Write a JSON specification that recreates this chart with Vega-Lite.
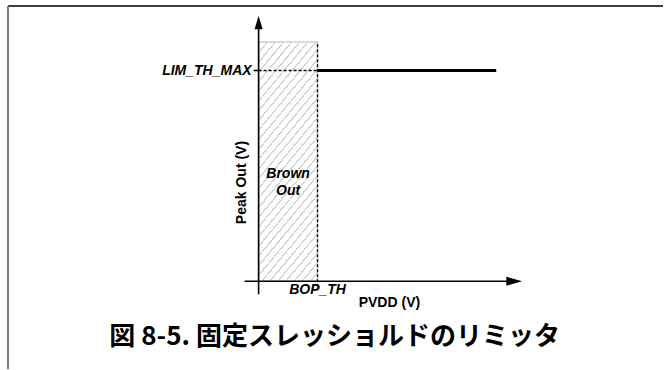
{
  "$schema": "https://vega.github.io/schema/vega-lite/v6.json",
  "width": 664,
  "height": 370,
  "padding": 0,
  "autosize": {"type": "fit", "contains": "padding"},
  "background": "white",
  "config": {"view": {"stroke": null}},
  "encoding": {
    "x": {"field": "x", "type": "quantitative", "axis": null, "scale": {"domain": [-4.3898, 6.8644], "nice": false, "zero": false}},
    "y": {"field": "y", "type": "quantitative", "axis": null, "scale": {"domain": [-0.41647, 1.33459], "nice": false, "zero": false}}
  },
  "layer": [
    {
      "data": {"values": [{"x": -4.2542, "x2": 6.8644, "y": 1.3062, "y2": 1.3062}]},
      "mark": {"type": "rule", "color": "#000000", "strokeWidth": 1.5},
      "encoding": {"x2": {"field": "x2"}, "y2": {"field": "y2"}}
    },
    {
      "data": {"values": [{"x": -4.2542, "x2": -4.2542, "y": 1.3062, "y2": -0.41647}]},
      "mark": {"type": "rule", "color": "#7a7a7a", "strokeWidth": 2},
      "encoding": {"x2": {"field": "x2"}, "y2": {"field": "y2"}}
    },
    {
      "data": {"values": [{"region": "Brown Out", "x": 0, "x2": 1, "y": 0, "y2": 1.1358}]},
      "mark": {
        "type": "rect",
        "stroke": "#d0d0d0",
        "strokeWidth": 1.5,
        "fill": {
          "gradient": "linear", "x1": 0, "y1": 0, "x2": 0.3515, "y2": 1.1913,
          "stops": [
            {"offset": 0, "color": "#d2d2d2"}, {"offset": 0.0065, "color": "#d2d2d2"}, {"offset": 0.0065, "color": "#ffffff"}, {"offset": 0.03125, "color": "#ffffff"},
            {"offset": 0.03125, "color": "#d2d2d2"}, {"offset": 0.03775, "color": "#d2d2d2"}, {"offset": 0.03775, "color": "#ffffff"}, {"offset": 0.0625, "color": "#ffffff"},
            {"offset": 0.0625, "color": "#d2d2d2"}, {"offset": 0.069, "color": "#d2d2d2"}, {"offset": 0.069, "color": "#ffffff"}, {"offset": 0.09375, "color": "#ffffff"},
            {"offset": 0.09375, "color": "#d2d2d2"}, {"offset": 0.10025, "color": "#d2d2d2"}, {"offset": 0.10025, "color": "#ffffff"}, {"offset": 0.125, "color": "#ffffff"},
            {"offset": 0.125, "color": "#d2d2d2"}, {"offset": 0.1315, "color": "#d2d2d2"}, {"offset": 0.1315, "color": "#ffffff"}, {"offset": 0.15625, "color": "#ffffff"},
            {"offset": 0.15625, "color": "#d2d2d2"}, {"offset": 0.16275, "color": "#d2d2d2"}, {"offset": 0.16275, "color": "#ffffff"}, {"offset": 0.1875, "color": "#ffffff"},
            {"offset": 0.1875, "color": "#d2d2d2"}, {"offset": 0.194, "color": "#d2d2d2"}, {"offset": 0.194, "color": "#ffffff"}, {"offset": 0.21875, "color": "#ffffff"},
            {"offset": 0.21875, "color": "#d2d2d2"}, {"offset": 0.22525, "color": "#d2d2d2"}, {"offset": 0.22525, "color": "#ffffff"}, {"offset": 0.25, "color": "#ffffff"},
            {"offset": 0.25, "color": "#d2d2d2"}, {"offset": 0.2565, "color": "#d2d2d2"}, {"offset": 0.2565, "color": "#ffffff"}, {"offset": 0.28125, "color": "#ffffff"},
            {"offset": 0.28125, "color": "#d2d2d2"}, {"offset": 0.28775, "color": "#d2d2d2"}, {"offset": 0.28775, "color": "#ffffff"}, {"offset": 0.3125, "color": "#ffffff"},
            {"offset": 0.3125, "color": "#d2d2d2"}, {"offset": 0.319, "color": "#d2d2d2"}, {"offset": 0.319, "color": "#ffffff"}, {"offset": 0.34375, "color": "#ffffff"},
            {"offset": 0.34375, "color": "#d2d2d2"}, {"offset": 0.35025, "color": "#d2d2d2"}, {"offset": 0.35025, "color": "#ffffff"}, {"offset": 0.375, "color": "#ffffff"},
            {"offset": 0.375, "color": "#d2d2d2"}, {"offset": 0.3815, "color": "#d2d2d2"}, {"offset": 0.3815, "color": "#ffffff"}, {"offset": 0.40625, "color": "#ffffff"},
            {"offset": 0.40625, "color": "#d2d2d2"}, {"offset": 0.41275, "color": "#d2d2d2"}, {"offset": 0.41275, "color": "#ffffff"}, {"offset": 0.4375, "color": "#ffffff"},
            {"offset": 0.4375, "color": "#d2d2d2"}, {"offset": 0.444, "color": "#d2d2d2"}, {"offset": 0.444, "color": "#ffffff"}, {"offset": 0.46875, "color": "#ffffff"},
            {"offset": 0.46875, "color": "#d2d2d2"}, {"offset": 0.47525, "color": "#d2d2d2"}, {"offset": 0.47525, "color": "#ffffff"}, {"offset": 0.5, "color": "#ffffff"},
            {"offset": 0.5, "color": "#d2d2d2"}, {"offset": 0.5065, "color": "#d2d2d2"}, {"offset": 0.5065, "color": "#ffffff"}, {"offset": 0.53125, "color": "#ffffff"},
            {"offset": 0.53125, "color": "#d2d2d2"}, {"offset": 0.53775, "color": "#d2d2d2"}, {"offset": 0.53775, "color": "#ffffff"}, {"offset": 0.5625, "color": "#ffffff"},
            {"offset": 0.5625, "color": "#d2d2d2"}, {"offset": 0.569, "color": "#d2d2d2"}, {"offset": 0.569, "color": "#ffffff"}, {"offset": 0.59375, "color": "#ffffff"},
            {"offset": 0.59375, "color": "#d2d2d2"}, {"offset": 0.60025, "color": "#d2d2d2"}, {"offset": 0.60025, "color": "#ffffff"}, {"offset": 0.625, "color": "#ffffff"},
            {"offset": 0.625, "color": "#d2d2d2"}, {"offset": 0.6315, "color": "#d2d2d2"}, {"offset": 0.6315, "color": "#ffffff"}, {"offset": 0.65625, "color": "#ffffff"},
            {"offset": 0.65625, "color": "#d2d2d2"}, {"offset": 0.66275, "color": "#d2d2d2"}, {"offset": 0.66275, "color": "#ffffff"}, {"offset": 0.6875, "color": "#ffffff"},
            {"offset": 0.6875, "color": "#d2d2d2"}, {"offset": 0.694, "color": "#d2d2d2"}, {"offset": 0.694, "color": "#ffffff"}, {"offset": 0.71875, "color": "#ffffff"},
            {"offset": 0.71875, "color": "#d2d2d2"}, {"offset": 0.72525, "color": "#d2d2d2"}, {"offset": 0.72525, "color": "#ffffff"}, {"offset": 0.75, "color": "#ffffff"},
            {"offset": 0.75, "color": "#d2d2d2"}, {"offset": 0.7565, "color": "#d2d2d2"}, {"offset": 0.7565, "color": "#ffffff"}, {"offset": 0.78125, "color": "#ffffff"},
            {"offset": 0.78125, "color": "#d2d2d2"}, {"offset": 0.78775, "color": "#d2d2d2"}, {"offset": 0.78775, "color": "#ffffff"}, {"offset": 0.8125, "color": "#ffffff"},
            {"offset": 0.8125, "color": "#d2d2d2"}, {"offset": 0.819, "color": "#d2d2d2"}, {"offset": 0.819, "color": "#ffffff"}, {"offset": 0.84375, "color": "#ffffff"},
            {"offset": 0.84375, "color": "#d2d2d2"}, {"offset": 0.85025, "color": "#d2d2d2"}, {"offset": 0.85025, "color": "#ffffff"}, {"offset": 0.875, "color": "#ffffff"},
            {"offset": 0.875, "color": "#d2d2d2"}, {"offset": 0.8815, "color": "#d2d2d2"}, {"offset": 0.8815, "color": "#ffffff"}, {"offset": 0.90625, "color": "#ffffff"},
            {"offset": 0.90625, "color": "#d2d2d2"}, {"offset": 0.91275, "color": "#d2d2d2"}, {"offset": 0.91275, "color": "#ffffff"}, {"offset": 0.9375, "color": "#ffffff"},
            {"offset": 0.9375, "color": "#d2d2d2"}, {"offset": 0.944, "color": "#d2d2d2"}, {"offset": 0.944, "color": "#ffffff"}, {"offset": 0.96875, "color": "#ffffff"},
            {"offset": 0.96875, "color": "#d2d2d2"}, {"offset": 0.97525, "color": "#d2d2d2"}, {"offset": 0.97525, "color": "#ffffff"}, {"offset": 1, "color": "#ffffff"}
          ]
        }
      },
      "encoding": {"x2": {"field": "x2"}, "y2": {"field": "y2"}}
    },
    {
      "data": {"values": [
        {"line": "BOP_TH", "x": 1, "x2": 1, "y": -0.028, "y2": 1.1358},
        {"line": "LIM_TH_MAX", "x": 0, "x2": 1, "y": 1, "y2": 1}
      ]},
      "mark": {"type": "rule", "color": "#000000", "strokeWidth": 1.3, "strokeDash": [3, 2]},
      "encoding": {"x2": {"field": "x2"}, "y2": {"field": "y2"}}
    },
    {
      "data": {"values": [
        {"line": "y axis", "x": 0, "x2": 0, "y": -0.0615, "y2": 1.2068},
        {"line": "x axis", "x": -0.2373, "x2": 4.2203, "y": 0, "y2": 0},
        {"line": "tick", "x": -0.085, "x2": 0, "y": 1, "y2": 1}
      ]},
      "mark": {"type": "rule", "color": "#000000", "strokeWidth": 1.6},
      "encoding": {"x2": {"field": "x2"}, "y2": {"field": "y2"}}
    },
    {
      "data": {"values": [{"x": 1, "x2": 4.0339, "y": 1, "y2": 1}]},
      "mark": {"type": "rule", "color": "#000000", "strokeWidth": 3.2},
      "encoding": {"x2": {"field": "x2"}, "y2": {"field": "y2"}}
    },
    {
      "data": {"values": [{"x": 0, "y": 1.2281}]},
      "mark": {"type": "point", "shape": "M0,-1L0.6,1L-0.6,1Z", "size": 180, "filled": true, "color": "#000000", "opacity": 1}
    },
    {
      "data": {"values": [{"x": 4.339, "y": 0}]},
      "mark": {"type": "point", "shape": "M1,0L-1,0.58L-1,-0.58Z", "size": 250, "filled": true, "color": "#000000", "opacity": 1}
    },
    {
      "data": {"values": [
        {"label": "LIM_TH_MAX", "x": -0.1186, "y": 1}
      ]},
      "mark": {"type": "text", "align": "right", "baseline": "middle", "font": "Liberation Sans", "fontSize": 14, "fontWeight": "bold", "fontStyle": "italic", "color": "#000000"},
      "encoding": {"text": {"field": "label"}}
    },
    {
      "data": {"values": [
        {"label": "BOP_TH", "x": 1, "y": -0.0426},
        {"label": "Brown", "x": 0.5, "y": 0.5111},
        {"label": "Out", "x": 0.5, "y": 0.4259}
      ]},
      "mark": {"type": "text", "align": "center", "baseline": "middle", "font": "Liberation Sans", "fontSize": 14, "fontWeight": "bold", "fontStyle": "italic", "color": "#000000"},
      "encoding": {"text": {"field": "label"}}
    },
    {
      "data": {"values": [{"label": "PVDD (V)", "x": 2.2203, "y": -0.1041}]},
      "mark": {"type": "text", "align": "center", "baseline": "middle", "font": "Liberation Sans", "fontSize": 14, "fontWeight": "bold", "color": "#000000"},
      "encoding": {"text": {"field": "label"}}
    },
    {
      "data": {"values": [{"label": "Peak Out (V)", "x": -0.2881, "y": 0.4685}]},
      "mark": {"type": "text", "align": "center", "baseline": "middle", "angle": 270, "font": "Liberation Sans", "fontSize": 14, "fontWeight": "bold", "color": "#000000"},
      "encoding": {"text": {"field": "label"}}
    },
    {
      "data": {"values": [{"label": "図 8-5. 固定スレッショルドのリミッタ", "x": 1.29, "y": -0.265}]},
      "mark": {"type": "text", "align": "center", "baseline": "middle", "font": "Noto Sans CJK JP", "fontSize": 26, "fontWeight": "bold", "color": "#000000"},
      "encoding": {"text": {"field": "label"}}
    }
  ]
}
